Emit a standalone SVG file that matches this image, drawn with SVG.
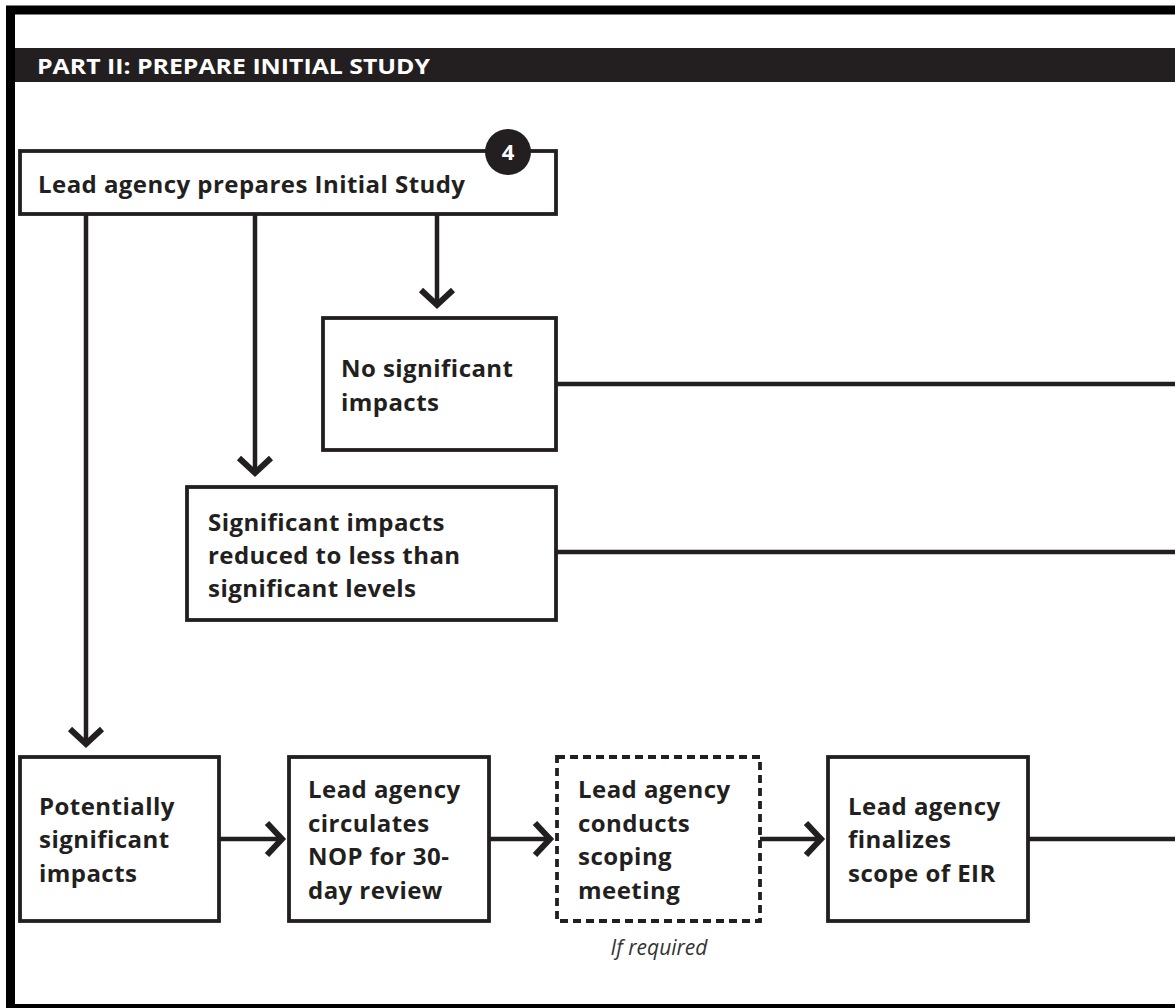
<svg xmlns="http://www.w3.org/2000/svg" width="1175" height="1008" viewBox="0 0 1175 1008">
<style>
.box{fill:#fff;stroke:#231f20;stroke-width:3.8}
.dash{fill:#fff;stroke:#231f20;stroke-width:3.8;stroke-dasharray:8 5}
.t{font-family:"Open Sans","Liberation Sans",sans-serif;font-weight:700;font-size:24px;fill:#231f20;letter-spacing:0.45px}
.c{fill:none;stroke:#231f20;stroke-width:4.5}
</style>
<defs>
<marker id="ah" markerUnits="userSpaceOnUse" markerWidth="44" markerHeight="44" viewBox="-22 -22 44 44" refX="0" refY="0" orient="auto">
<path d="M-15,-16 L0,0 L-15,16" fill="none" stroke="#231f20" stroke-width="6"/>
</marker>
</defs>
<rect width="1175" height="1008" fill="#fff"/>
<rect x="10.5" y="10" width="1300" height="998.5" fill="none" stroke="#000" stroke-width="9"/>
<g id="header">
<rect x="15" y="48" width="1160" height="34" fill="#231f20"/>
<text x="37" y="74" font-family="Open Sans, Liberation Sans, sans-serif" font-weight="700" font-size="21" fill="#fff" textLength="393" lengthAdjust="spacingAndGlyphs">PART II: PREPARE INITIAL STUDY</text>
</g>
<g id="connectors">
<path class="c" d="M86,214 V744" marker-end="url(#ah)"/>
<path class="c" d="M255,214 V473" marker-end="url(#ah)"/>
<path class="c" d="M437,214 V305" marker-end="url(#ah)"/>
<path class="c" d="M556,384 H1175"/>
<path class="c" d="M556,552 H1175"/>
<path class="c" d="M219,839 H282" marker-end="url(#ah)"/>
<path class="c" d="M489,839 H550" marker-end="url(#ah)"/>
<path class="c" d="M760,839 H821" marker-end="url(#ah)"/>
<path class="c" d="M1028,839 H1175"/>
</g>
<g id="n1">
<rect class="box" x="20" y="151" width="536" height="63"/>
<text class="t" x="38" y="193">Lead agency prepares Initial Study</text>
<circle cx="508" cy="152" r="23" fill="#231f20"/>
<text x="508" y="160" text-anchor="middle" font-family="Open Sans, Liberation Sans, sans-serif" font-weight="700" font-size="22" fill="#fff">4</text>
</g>
<g id="n2">
<rect class="box" x="323" y="318" width="233" height="132"/>
<text class="t" x="341" y="377">No significant</text>
<text class="t" x="341" y="411">impacts</text>
</g>
<g id="n3">
<rect class="box" x="187" y="487" width="369" height="133"/>
<text class="t" x="208" y="531">Significant impacts</text>
<text class="t" x="208" y="564">reduced to less than</text>
<text class="t" x="208" y="597">significant levels</text>
</g>
<g id="n4">
<rect class="box" x="20" y="757" width="199" height="164"/>
<text class="t" x="39" y="815">Potentially</text>
<text class="t" x="39" y="848">significant</text>
<text class="t" x="39" y="882">impacts</text>
</g>
<g id="n5">
<rect class="box" x="289" y="757" width="200" height="164"/>
<text class="t" x="308" y="798">Lead agency</text>
<text class="t" x="308" y="832">circulates</text>
<text class="t" x="308" y="865">NOP for 30-</text>
<text class="t" x="308" y="899">day review</text>
</g>
<g id="n6">
<rect class="dash" x="557" y="757" width="203" height="164"/>
<text class="t" x="578" y="798">Lead agency</text>
<text class="t" x="578" y="832">conducts</text>
<text class="t" x="578" y="865">scoping</text>
<text class="t" x="578" y="899">meeting</text>
<text x="659" y="955" text-anchor="middle" font-family="Open Sans, Liberation Sans, sans-serif" font-style="italic" font-weight="400" font-size="21" fill="#333">If required</text>
</g>
<g id="n7">
<rect class="box" x="828" y="757" width="200" height="164"/>
<text class="t" x="848" y="815">Lead agency</text>
<text class="t" x="848" y="848">finalizes</text>
<text class="t" x="848" y="882">scope of EIR</text>
</g>
</svg>
